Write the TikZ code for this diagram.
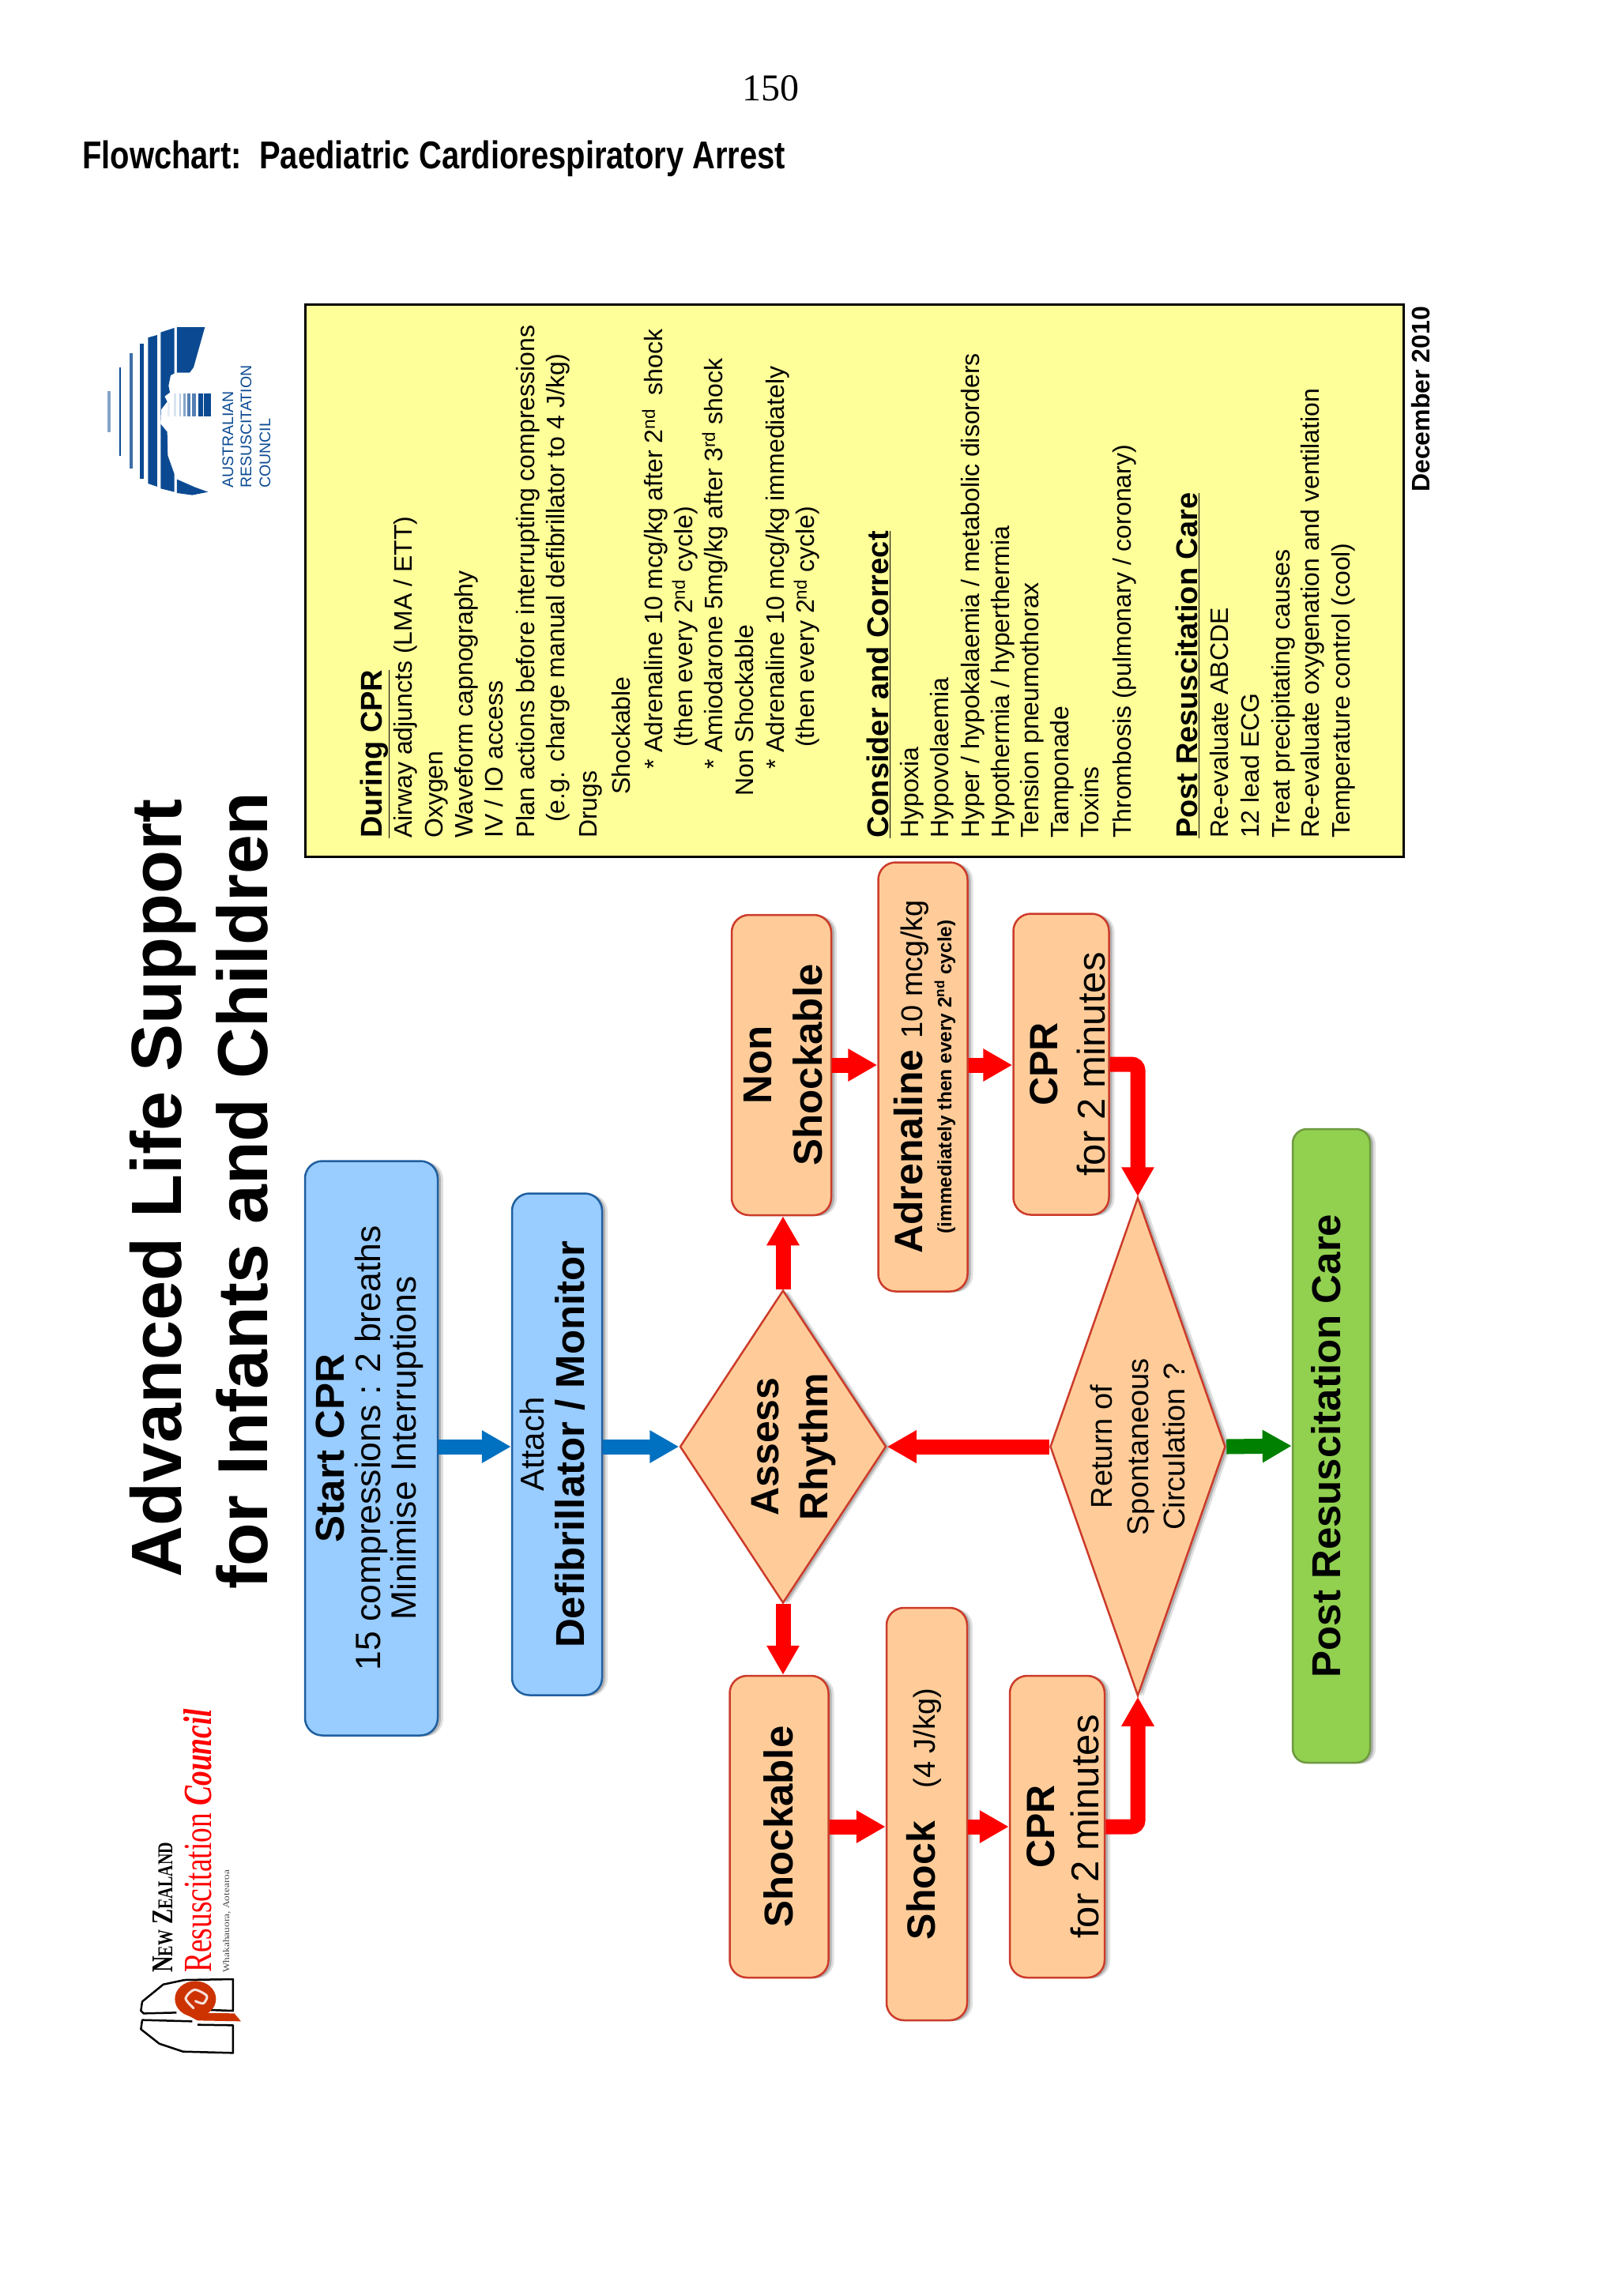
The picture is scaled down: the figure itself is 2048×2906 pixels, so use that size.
\documentclass[tikz,border=0pt]{standalone}
\usepackage{fontspec}
\usepackage{graphicx}
\setmainfont{Liberation Sans}
\newfontfamily\timesf{Liberation Serif}
\usetikzlibrary{shapes.geometric,shadows,arrows.meta}
\definecolor{boxfill}{HTML}{FFCC99}
\definecolor{boxline}{HTML}{CC3B2A}
\definecolor{bluefill}{HTML}{99CCFF}
\definecolor{blueline}{HTML}{1F5F9F}
\definecolor{greenfill}{HTML}{92D050}
\definecolor{greenline}{HTML}{6E9A40}
\definecolor{yel}{HTML}{FFFF99}
\definecolor{redarrow}{HTML}{FF0000}
\definecolor{bluearrow}{HTML}{0070C0}
\definecolor{greenarrow}{HTML}{008000}
\definecolor{arcblue}{HTML}{0B4A92}
\definecolor{nzred}{HTML}{CC3300}
\newcommand\fz[1]{\fontsize{#1}{#1}\selectfont}
\newcommand\rt[3][0]{\hspace*{#1pt}\makebox[0pt]{\rotatebox{90}{\fontsize{10}{#2}\selectfont\begin{tabular}{@{}c@{}}#3\end{tabular}}}}
\newcommand\tl[5][]{\node[linetext,#1] (#2) at (#3,#4) {#5};}
\tikzset{
  softshadow/.style={general shadow={shadow xshift=7pt,shadow yshift=-1pt,fill=black,opacity=.12},
                     general shadow={shadow xshift=4pt,shadow yshift=-1pt,fill=black,opacity=.2}},
  linetext/.style={rotate=90,anchor=base west,inner sep=0pt,font=\fz{32}},
  headtext/.style={font=\fz{38}\bfseries},
  orangebox/.style={softshadow,draw=boxline,line width=2.5pt,fill=boxfill,rounded corners=22pt,inner sep=0pt,text=black},
  bluebox/.style={softshadow,draw=blueline,line width=2.5pt,fill=bluefill,rounded corners=22pt,inner sep=0pt},
  greenbox/.style={softshadow,draw=greenline,line width=2.5pt,fill=greenfill,rounded corners=18pt,inner sep=0pt},
  decide/.style={softshadow,diamond,draw=boxline,line width=2.5pt,fill=boxfill,inner sep=0pt},
  flow/.style={line width=19pt,-{Triangle[length=37pt,width=39pt]}},
  flowred/.style={flow,draw=redarrow},
  flowblue/.style={flow,draw=bluearrow},
  flowgreen/.style={flow,draw=greenarrow},
}
\begin{document}
\begin{tikzpicture}[x=1pt,y=-1pt]
\useasboundingbox (0,0) rectangle (2048,2906);
\fill[white] (0,0) rectangle (2048,2906);
% page head
\node[inner sep=0pt,font=\timesf\fz{48}] (pageno) at (975,112) {150};
\node[anchor=base west,inner sep=0pt] (head) at (104,214) {\scalebox{.815}[1]{\fz{49}\bfseries Flowchart:\ \ Paediatric Cardiorespiratory Arrest}};
% titles
\tl{t1}{229}{1997}{\fz{90}\bfseries Advanced Life Support}
\tl{t2}{338}{2012}{\fz{89.5}\bfseries for Infants and Children}
% Australian logo
\begin{scope}[shift={(130,400)},x=.3333pt,y=-.3333pt]
  \fill[arcblue!50!white] (17,285) rectangle (29,440);
  \fill[arcblue] (63,195) rectangle (70,530);
  \fill[arcblue!80!white] (102,140) rectangle (113,580);
  \fill[arcblue] (140,105) rectangle (157,618);
  \fill[arcblue] (172,82) -- (207,72) -- (207,648) -- (172,636) -- cycle;
  \fill[arcblue] (220,62) -- (272,45) -- (272,218) -- (258,225) -- (250,265) -- (255,290) -- (235,305) -- (245,325) -- (222,355) -- (220,410) -- (245,440) -- (247,530) -- (272,600) -- (272,668) -- (220,655) -- cycle;
  \fill[arcblue] (282,42) -- (388,42) -- (345,195) -- (330,215) -- (282,215) -- cycle;
  \fill[arcblue] (282,620) -- (350,650) -- (400,668) -- (340,680) -- (282,672) -- cycle;
  \fill[arcblue] (385,293) rectangle (410,380);
  \fill[arcblue] (362,293) rectangle (382,380);
  \fill[arcblue!70!white] (340,293) rectangle (355,380);
  \fill[arcblue!70!white] (322,293) rectangle (332,380);
  \fill[arcblue!50!white] (305,293) rectangle (315,380);
  \fill[arcblue!30!white] (290,293) rectangle (298,380);
  \fill[arcblue!15!white] (270,293) rectangle (280,380);
  \fill[arcblue!10!white] (245,330) rectangle (255,380);
\end{scope}
\tl[font=\fz{19.5},text=arcblue]{arc1}{295}{618}{AUSTRALIAN}
\tl[font=\fz{19.5},text=arcblue]{arc2}{318}{618}{RESUSCITATION}
\tl[font=\fz{19.5},text=arcblue]{arc3}{342}{618}{COUNCIL}
% NZ logo
\begin{scope}[shift={(160,2470)},x=.3333pt,y=-.3333pt]
  \draw[line width=2.5pt,line join=round] (190,232) -- (65,235) -- (55,225) -- (60,190) -- (140,125) -- (220,108) -- (405,105) -- (405,225) -- (320,222);
  \draw[line width=2.5pt,line join=round] (250,265) -- (60,260) -- (55,295) -- (125,350) -- (215,380) -- (405,385) -- (405,280) -- (270,278);
  \fill[nzred] (262,180) ellipse [x radius=78,y radius=68];
  \fill[nzred] (215,232) -- (410,235) -- (435,265) -- (270,262) -- cycle;
  \draw[line width=3pt,color=white!85!nzred,line cap=round] plot[smooth] coordinates {(255,215) (225,178) (258,145) (305,168) (292,197) (262,188)};
\end{scope}
\node[rotate=90,anchor=base west,inner sep=0pt] (nz1) at (218,2497) {\resizebox{165pt}{25pt}{\timesf\bfseries N\fz{7}EW\fz{10} Z\fz{7}EALAND}};
\node[rotate=90,anchor=base west,inner sep=0pt,text=red] (nz2) at (267,2497) {\resizebox{334pt}{35pt}{\timesf Resuscitation \bfseries\itshape Council}};
\node[rotate=90,anchor=base west,inner sep=0pt,text=black!70] (nz3) at (290,2497) {\resizebox{130pt}{8pt}{\timesf Whakahauora, Aotearoa}};
% yellow panel
\node[draw=black,line width=2.5pt,fill=yel,inner sep=0pt,minimum width=1390pt,minimum height=699pt,anchor=north west] (panel) at (385,384) {};
\tl[headtext]{l1}{483}{1061}{\underline{During CPR}}
\tl{l2}{521}{1061}{Airway adjuncts (LMA / ETT)}
\tl{l3}{560}{1061}{Oxygen}
\tl{l4}{598}{1061}{Waveform capnography}
\tl{l5}{636}{1061}{IV / IO access}
\tl{l6}{676}{1061}{Plan actions before interrupting compressions}
\tl{l7}{714}{1041}{(e.g. charge manual defibrillator to 4 J/kg)}
\tl{l8}{755}{1061}{Drugs}
\tl{l9}{797}{1006}{Shockable}
\tl{l10}{838}{974}{* Adrenaline 10 mcg/kg after 2\textsuperscript{nd}\ \ shock}
\tl{l11}{876}{946}{(then every 2\textsuperscript{nd} cycle)}
\tl{l12}{914}{974}{* Amiodarone 5mg/kg after 3\textsuperscript{rd} shock}
\tl{l13}{953}{1008}{Non Shockable}
\tl{l14}{992}{974}{* Adrenaline 10 mcg/kg immediately}
\tl{l15}{1030}{946}{(then every 2\textsuperscript{nd} cycle)}
\tl[headtext]{l16}{1124}{1061}{\underline{Consider and Correct}}
\tl{l17}{1162}{1061}{Hypoxia}
\tl{l18}{1200}{1061}{Hypovolaemia}
\tl{l19}{1239}{1061}{Hyper / hypokalaemia / metabolic disorders}
\tl{l20}{1277}{1061}{Hypothermia / hyperthermia}
\tl{l21}{1314}{1061}{Tension pneumothorax}
\tl{l22}{1352}{1061}{Tamponade}
\tl{l23}{1390}{1061}{Toxins}
\tl{l24}{1431}{1061}{Thrombosis (pulmonary / coronary)}
\tl[headtext]{l25}{1515}{1061}{\underline{Post Resuscitation Care}}
\tl{l26}{1554}{1061}{Re-evaluate ABCDE}
\tl{l27}{1593}{1061}{12 lead ECG}
\tl{l28}{1632}{1061}{Treat precipitating causes}
\tl{l29}{1669}{1061}{Re-evaluate oxygenation and ventilation}
\tl{l30}{1708}{1061}{Temperature control (cool)}
\tl[font=\fz{32}\bfseries]{dec}{1809}{623}{December 2010}
% flow boxes
\node[bluebox,minimum width=168pt,minimum height=727pt] (start) at (470,1833) {\rt{45}{\fz{51}\bfseries Start CPR\\\fz{44.5}15 compressions : 2 breaths\\\fz{44.5}Minimise Interruptions}};
\node[bluebox,minimum width=114pt,minimum height=635pt] (defib) at (705,1828) {\rt{46}{\fz{42}Attach\\\fz{51}\bfseries Defibrillator / Monitor}};
\node[decide,minimum width=261pt,minimum height=396pt] (assess) at (991,1831) {};
\node[inner sep=0pt] (assesslabel) at (1004,1831) {\rt{62}{\fz{50}\bfseries Assess\\\fz{50}\bfseries Rhythm}};
\node[decide,minimum width=222pt,minimum height=631pt] (ret) at (1440,1831) {};
\node[inner sep=0pt] (retlabel) at (1444,1831) {\rt{46}{\fz{38}Return of\\\fz{38}Spontaneous\\\fz{38}Circulation ?}};
\node[greenbox,minimum width=98pt,minimum height=802pt] (post) at (1685,1830) {\rt{50}{\fz{51}\bfseries Post Resuscitation Care}};
\node[orangebox,minimum width=126pt,minimum height=380pt] (ns) at (989,1348) {\rt[14]{64}{\fz{51}\bfseries Non\\\fz{51}\bfseries Shockable}};
\node[orangebox,minimum width=113pt,minimum height=543pt] (adr) at (1168,1363) {\rt[10]{37}{\fz{50}\bfseries Adrenaline\ \fz{38}\mdseries 10 mcg/kg\\\fz{24.5}\bfseries (immediately then every 2\textsuperscript{nd} cycle)}};
\node[orangebox,minimum width=121pt,minimum height=381pt] (cpra) at (1343,1347) {\rt[26]{60}{\fz{50}\bfseries CPR\\\fz{49}for 2 minutes}};
\node[orangebox,minimum width=125pt,minimum height=382pt] (shk) at (986,2312) {\rt[14]{50}{\fz{51}\bfseries Shockable}};
\node[orangebox,minimum width=102pt,minimum height=522pt] (shock) at (1173,2296) {\rt{50}{\fz{50}\bfseries Shock\ \ \ \fz{38}\mdseries(4 J/kg)}};
\node[orangebox,minimum width=120pt,minimum height=382pt] (cprb) at (1338,2312) {\rt[26]{56}{\fz{50}\bfseries CPR\\\fz{49}for 2 minutes}};
% connectors
\draw[flowblue] (start.east |- assess.west) -- (defib.west |- assess.west);
\draw[flowblue] (defib.east |- assess.west) -- (assess.west);
\draw[flowred] (assess.north) -- (assess.north |- ns.south);
\draw[flowred] (assess.south) -- (assess.south |- shk.north);
\draw[flowred] (ns.east) -- (ns.east -| adr.west);
\draw[flowred] (ns.east -| adr.east) -- (ns.east -| cpra.west);
\draw[flowred,rounded corners=8pt] (cpra.east) -| (ret.north);
\draw[flowred] (shk.east) -- (shk.east -| shock.west);
\draw[flowred] (shk.east -| shock.east) -- (shk.east -| cprb.west);
\draw[flowred,rounded corners=8pt] (cprb.east) -| (ret.south);
\draw[flowred] (ret.west) -- (assess.east);
\draw[flowgreen] (ret.east) -- (post.west);
\end{tikzpicture}
\end{document}
